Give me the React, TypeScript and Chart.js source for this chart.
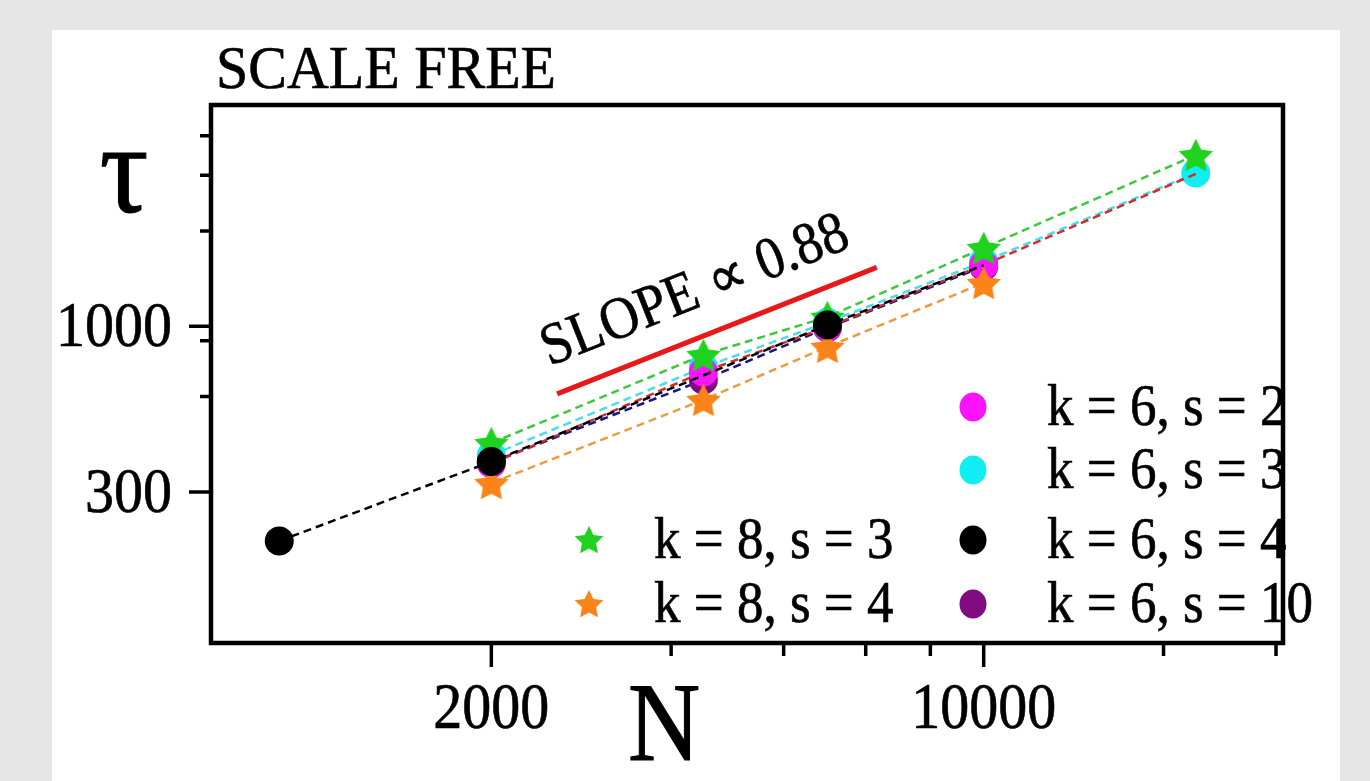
import React, { useEffect, useRef } from "react";
import { Chart, registerables } from "chart.js";

Chart.register(...registerables);

// ---------- axis ranges & ticks ----------
const X_MIN = 800;
const X_MAX = 26600;
const Y_MIN = 100;
const Y_MAX = 5000;

const X_MAJOR_TICKS = [2000, 10000];
const X_MAJOR_LABELS = ["2000", "10000"];
const X_MINOR_TICKS = [3600, 5200, 6800, 8400, 18000, 26000];
const Y_MAJOR_TICKS = [300, 1000];
const Y_MAJOR_LABELS = ["300", "1000"];
const Y_MINOR_TICKS = [600, 900, 2000, 3000, 4000];

// ---------- series ----------
const N_K6_S2 = [2000, 4000, 6000, 10000, 20000];
const TAU_K6_S2 = [368, 718, 996, 1563, 3030];

const N_K6_S3 = [2000, 4000, 6000, 10000, 20000];
const TAU_K6_S3 = [392, 742, 1030, 1600, 3050];

const N_K6_S4 = [1000, 2000, 6000, 10000];
const TAU_K6_S4 = [210, 374, 1010, 1560];

const N_K6_S10 = [2000, 4000, 6000, 10000];
const TAU_K6_S10 = [372, 677, 990, 1545];

const N_K8_S3 = [2000, 4000, 6000, 10000, 20000];
const TAU_K8_S3 = [428, 812, 1071, 1769, 3477];

const N_K8_S4 = [2000, 4000, 6000, 10000];
const TAU_K8_S4 = [320, 586, 861, 1371];

// slope guide line
const SLOPE_N = [2480, 7050];
const SLOPE_TAU = [612, 1535];
const SLOPE_LABEL = "SLOPE \u221D 0.88";

const TITLE = "SCALE FREE";
const X_TITLE = "N";
const Y_TITLE = "\u03C4";

const LEGEND_LABELS = [
  "k = 6, s = 2",
  "k = 6, s = 3",
  "k = 6, s = 4",
  "k = 6, s = 10",
  "k = 8, s = 3",
  "k = 8, s = 4",
];

const SERIF = '"Liberation Serif", "Times New Roman", serif';

const C_MAGENTA = "#fb14fb";
const C_CYAN = "#10eef2";
const C_BLACK = "#000000";
const C_PURPLE = "#800a80";
const C_GREEN = "#1ed21e";
const C_ORANGE = "#fb8418";

function toXY(xs: number[], ys: number[]) {
  return xs.map((x, i) => ({ x, y: ys[i] }));
}

function starPath(ctx: CanvasRenderingContext2D, cx: number, cy: number, R: number, r: number) {
  ctx.beginPath();
  for (let i = 0; i < 10; i++) {
    const a = -Math.PI / 2 + (i * Math.PI) / 5;
    const rad = i % 2 === 0 ? R : r;
    const px = cx + rad * Math.cos(a);
    const py = cy + rad * Math.sin(a);
    if (i === 0) ctx.moveTo(px, py);
    else ctx.lineTo(px, py);
  }
  ctx.closePath();
}

function makeStar(color: string, R: number) {
  const c = document.createElement("canvas");
  const s = Math.ceil(2 * R + 4);
  c.width = s;
  c.height = s;
  const ctx = c.getContext("2d")!;
  ctx.fillStyle = color;
  starPath(ctx, s / 2, s / 2 + R * 0.1, R, R * 0.5);
  ctx.fill();
  return c;
}

function drawText(
  ctx: CanvasRenderingContext2D,
  text: string,
  x: number,
  y: number,
  sy: number,
  heavy = 0.6
) {
  ctx.save();
  ctx.translate(x, y);
  ctx.scale(1, sy);
  ctx.fillText(text, 0, 0);
  if (heavy > 0) {
    ctx.lineWidth = heavy;
    ctx.strokeStyle = ctx.fillStyle as string;
    ctx.strokeText(text, 0, 0);
  }
  ctx.restore();
}

export default function App() {
  const ref = useRef<HTMLCanvasElement | null>(null);

  useEffect(() => {
    if (!ref.current) return;
    const greenStar = makeStar(C_GREEN, 18);
    const orangeStar = makeStar(C_ORANGE, 18);

    const R = 14.5;
    const dash = [8, 5];

    const overlay = {
      id: "overlay",
      afterDraw(chart: any) {
        const ctx: CanvasRenderingContext2D = chart.ctx;
        const { left, top, right, bottom } = chart.chartArea;
        const xs = chart.scales.x;
        const ys = chart.scales.y;
        ctx.save();
        ctx.strokeStyle = "#000";
        ctx.fillStyle = "#000";
        ctx.lineCap = "butt";

        // frame
        ctx.lineWidth = 4.5;
        ctx.strokeRect(left, top, right - left, bottom - top);

        // ticks
        ctx.lineWidth = 3.5;
        ctx.beginPath();
        X_MAJOR_TICKS.forEach((v) => {
          const p = xs.getPixelForValue(v);
          ctx.moveTo(p, bottom);
          ctx.lineTo(p, bottom + 24);
        });
        X_MINOR_TICKS.forEach((v) => {
          const p = xs.getPixelForValue(v);
          ctx.moveTo(p, bottom);
          ctx.lineTo(p, bottom + 13);
        });
        Y_MAJOR_TICKS.forEach((v) => {
          const p = ys.getPixelForValue(v);
          ctx.moveTo(left, p);
          ctx.lineTo(left - 22, p);
        });
        Y_MINOR_TICKS.forEach((v) => {
          const p = ys.getPixelForValue(v);
          ctx.moveTo(left, p);
          ctx.lineTo(left - 11, p);
        });
        ctx.stroke();

        // tick labels
        ctx.font = `58px ${SERIF}`;
        ctx.textBaseline = "alphabetic";
        ctx.textAlign = "center";
        X_MAJOR_TICKS.forEach((v, i) => {
          drawText(ctx, X_MAJOR_LABELS[i], xs.getPixelForValue(v), bottom + 85, 1.14);
        });
        ctx.textAlign = "right";
        Y_MAJOR_TICKS.forEach((v, i) => {
          drawText(ctx, Y_MAJOR_LABELS[i], left - 39, ys.getPixelForValue(v) + 20, 1.08);
        });

        // title
        ctx.textAlign = "left";
        ctx.font = `58px ${SERIF}`;
        drawText(ctx, TITLE, left + 5, top - 17, 1.04);

        // axis titles
        ctx.textAlign = "center";
        ctx.font = `122px ${SERIF}`;
        drawText(ctx, Y_TITLE, left - 87, top + 107, 1.05, 1);
        ctx.font = `100px ${SERIF}`;
        drawText(ctx, X_TITLE, left + 453, bottom + 117, 1.12, 1);

        // slope label
        const x1 = xs.getPixelForValue(SLOPE_N[0]);
        const y1 = ys.getPixelForValue(SLOPE_TAU[0]);
        const x2 = xs.getPixelForValue(SLOPE_N[1]);
        const y2 = ys.getPixelForValue(SLOPE_TAU[1]);
        const ang = Math.atan2(y2 - y1, x2 - x1);
        const mx = (x1 + x2) / 2;
        const my = (y1 + y2) / 2;
        const off = 44;
        const tx = mx + off * Math.sin(ang) - 6 * Math.cos(ang);
        const ty = my - off * Math.cos(ang) - 6 * Math.sin(ang);
        ctx.save();
        ctx.translate(tx, ty);
        ctx.rotate(ang);
        ctx.font = `54px ${SERIF}`;
        ctx.textAlign = "center";
        ctx.textBaseline = "middle";
        drawText(ctx, SLOPE_LABEL, 0, 0, 1.1);
        ctx.restore();

        // legend
        ctx.font = `53px ${SERIF}`;
        ctx.textAlign = "left";
        ctx.textBaseline = "alphabetic";
        const rows = [top + 302, top + 365, top + 435, top + 499];
        const circX = right - 310;
        const circTextX = right - 236;
        const circEntries = [
          { c: C_MAGENTA, l: LEGEND_LABELS[0], r: rows[0] },
          { c: C_CYAN, l: LEGEND_LABELS[1], r: rows[1] },
          { c: C_BLACK, l: LEGEND_LABELS[2], r: rows[2] },
          { c: C_PURPLE, l: LEGEND_LABELS[3], r: rows[3] },
        ];
        circEntries.forEach((e) => {
          ctx.fillStyle = e.c;
          ctx.beginPath();
          ctx.ellipse(circX, e.r, 13.5, 14.5, 0, 0, Math.PI * 2);
          ctx.fill();
          ctx.fillStyle = "#000";
          drawText(ctx, e.l, circTextX, e.r + 18, 1.1);
        });
        const starX = left + 378;
        const starTextX = left + 443;
        const starEntries = [
          { c: C_GREEN, l: LEGEND_LABELS[4], r: rows[2] },
          { c: C_ORANGE, l: LEGEND_LABELS[5], r: rows[3] },
        ];
        starEntries.forEach((e) => {
          ctx.fillStyle = e.c;
          starPath(ctx, starX, e.r + 1, 15, 7.5);
          ctx.fill();
          ctx.fillStyle = "#000";
          drawText(ctx, e.l, starTextX, e.r + 18, 1.1);
        });

        ctx.restore();
      },
    };

    const lineBase = {
      type: "line" as const,
      showLine: true,
      fill: false,
      tension: 0,
      borderWidth: 2.5,
      borderDash: dash,
      pointBorderWidth: 0,
      clip: false as any,
    };

    const chart = new Chart(ref.current, {
      type: "line",
      data: {
        datasets: [
          {
            ...lineBase,
            label: LEGEND_LABELS[2],
            data: toXY(N_K6_S4, TAU_K6_S4),
            borderColor: C_BLACK,
            backgroundColor: C_BLACK,
            pointBackgroundColor: C_BLACK,
            pointBorderColor: C_BLACK,
            pointRadius: [R, R, R, 0],
            order: 0,
          },
          {
            ...lineBase,
            label: LEGEND_LABELS[4],
            data: toXY(N_K8_S3, TAU_K8_S3),
            borderColor: "#3cc83c",
            pointStyle: greenStar as any,
            pointRadius: 18,
            order: 1,
          },
          {
            ...lineBase,
            label: LEGEND_LABELS[5],
            data: toXY(N_K8_S4, TAU_K8_S4),
            borderColor: "#f09a40",
            pointStyle: orangeStar as any,
            pointRadius: 18,
            order: 2,
          },
          {
            ...lineBase,
            label: LEGEND_LABELS[0],
            data: toXY(N_K6_S2, TAU_K6_S2),
            borderColor: "#d82a2a",
            pointBackgroundColor: C_MAGENTA,
            pointBorderColor: C_MAGENTA,
            pointRadius: [R, R, R, R, 0],
            order: 3,
          },
          {
            ...lineBase,
            label: LEGEND_LABELS[3],
            data: toXY(N_K6_S10, TAU_K6_S10),
            borderColor: "#141488",
            pointBackgroundColor: C_PURPLE,
            pointBorderColor: C_PURPLE,
            pointRadius: R,
            order: 4,
          },
          {
            ...lineBase,
            label: LEGEND_LABELS[1],
            data: toXY(N_K6_S3, TAU_K6_S3),
            borderColor: "#48dcec",
            pointBackgroundColor: C_CYAN,
            pointBorderColor: C_CYAN,
            pointRadius: R,
            order: 5,
          },
          {
            type: "line",
            label: "slope",
            data: toXY(SLOPE_N, SLOPE_TAU),
            borderColor: "#e81818",
            borderWidth: 5,
            pointRadius: 0,
            fill: false,
            order: 6,
          },
        ] as any,
      },
      options: {
        animation: false,
        responsive: false,
        events: [],
        layout: { padding: { left: 211, top: 105, right: 87, bottom: 138 } },
        plugins: {
          legend: { display: false },
          tooltip: { enabled: false },
          title: { display: false },
        },
        scales: {
          x: { type: "logarithmic", min: X_MIN, max: X_MAX, display: false },
          y: { type: "logarithmic", min: Y_MIN, max: Y_MAX, display: false },
        },
      },
      plugins: [overlay],
    });

    return () => chart.destroy();
  }, []);

  return (
    <div
      style={{
        position: "fixed",
        left: 0,
        top: 0,
        width: 1370,
        height: 781,
        background: "#e6e6e6",
        overflow: "hidden",
      }}
    >
      <div
        style={{
          position: "absolute",
          left: 52,
          top: 30,
          width: 1288,
          height: 751,
          background: "#ffffff",
        }}
      />
      <canvas
        ref={ref}
        width={1370}
        height={781}
        style={{ position: "absolute", left: 0, top: 0, width: 1370, height: 781 }}
      />
    </div>
  );
}
